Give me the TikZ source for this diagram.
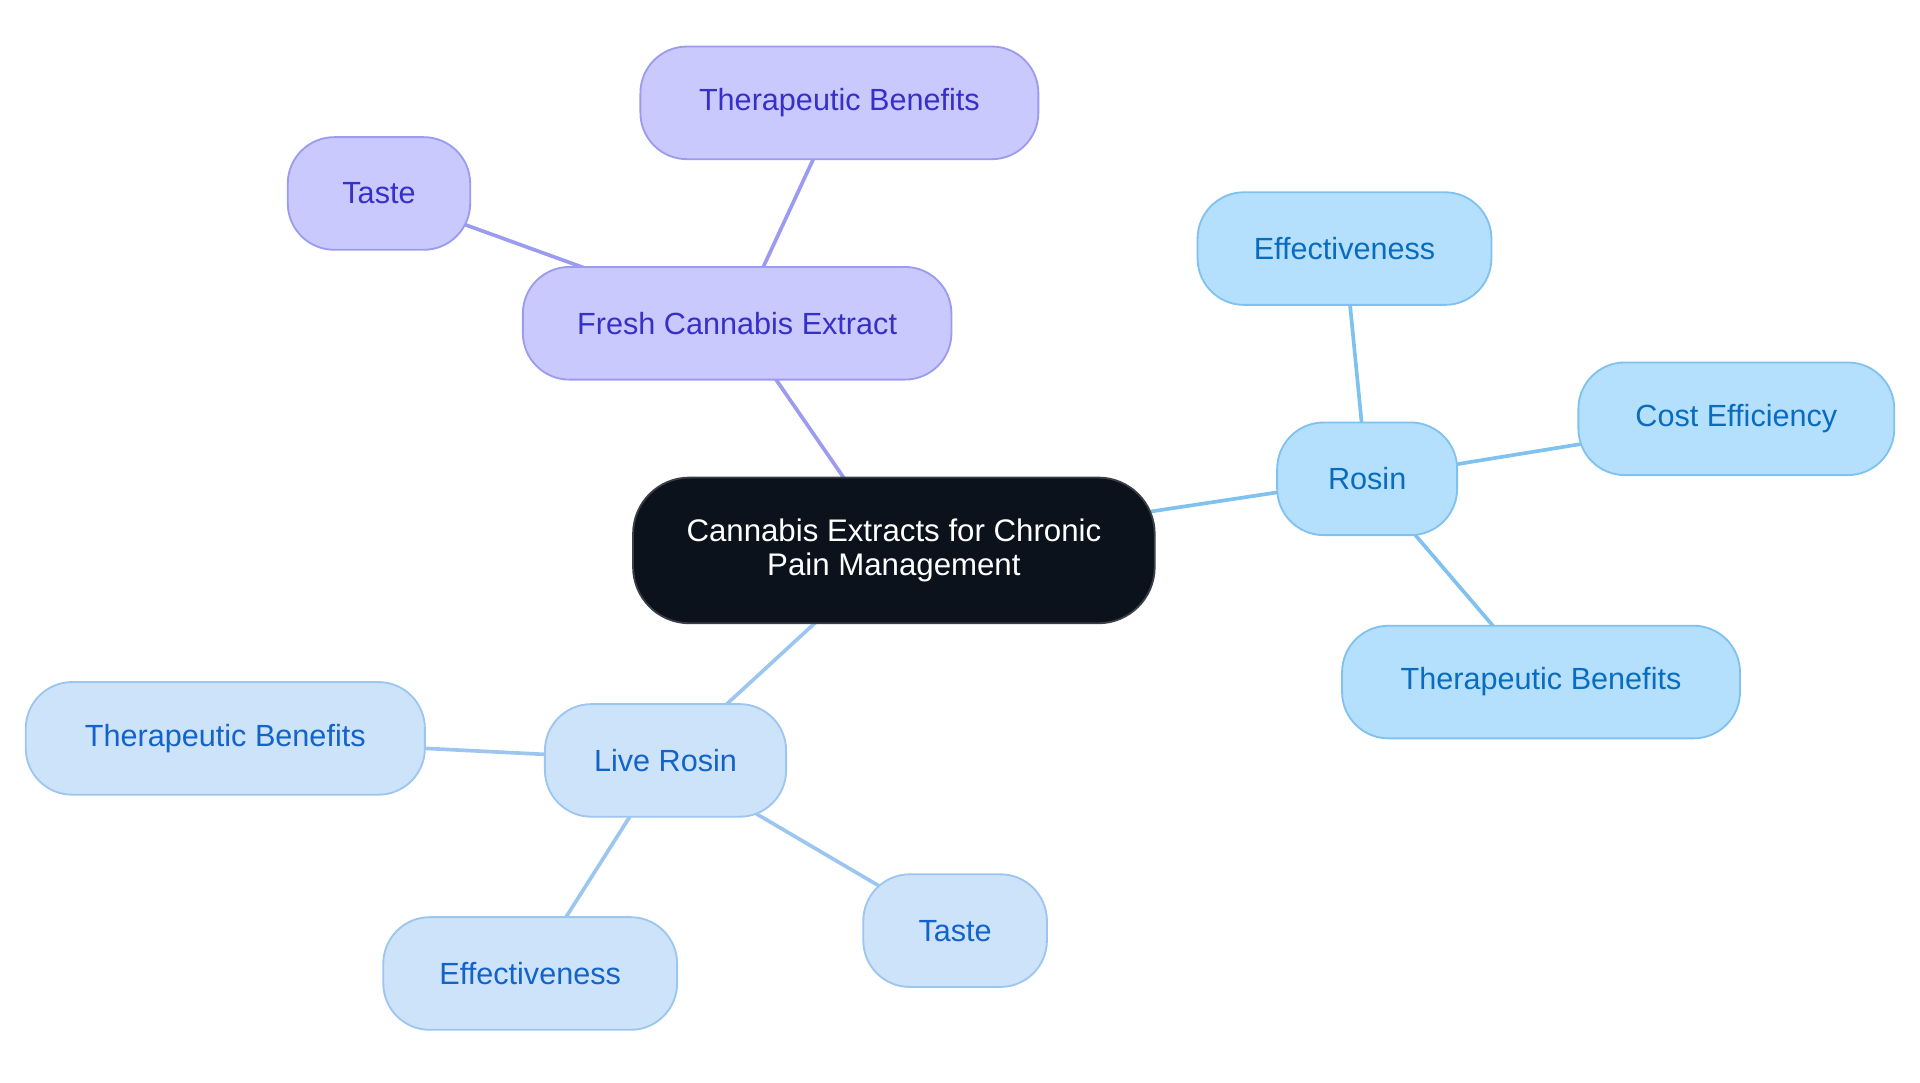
\documentclass[tikz,border=0pt]{standalone}
\usepackage{fontspec}
\setmainfont{Liberation Sans}
\usetikzlibrary{backgrounds}
\definecolor{rootfill}{HTML}{0C121C}
\definecolor{rootline}{HTML}{3A3F47}
\definecolor{freshfill}{HTML}{C9C9FD}
\definecolor{freshline}{HTML}{9B9BF0}
\definecolor{freshtext}{HTML}{3730C8}
\definecolor{rosinfill}{HTML}{B5E0FD}
\definecolor{rosinline}{HTML}{7FC2F0}
\definecolor{rosintext}{HTML}{0A6CBF}
\definecolor{livefill}{HTML}{CCE3FA}
\definecolor{liveline}{HTML}{9CC6F0}
\definecolor{livetext}{HTML}{1463C8}

\begin{document}
\begin{tikzpicture}[x=1pt,y=-1pt,
    topic/.style={draw, rounded corners=38pt, line width=1.5pt, minimum height=92pt,
        inner sep=0pt, font=\fontsize{25}{27}\selectfont},
    root/.style={topic, fill=rootfill, draw=rootline, text=white, align=center,
        minimum height=119pt, rounded corners=46pt, font=\fontsize{25.5}{27}\selectfont},
    fresh/.style={topic, fill=freshfill, draw=freshline, text=freshtext},
    rosin/.style={topic, fill=rosinfill, draw=rosinline, text=rosintext},
    live/.style={topic, fill=livefill, draw=liveline, text=livetext},
    link/.style={line width=3pt}
]

    \useasboundingbox (0,0) rectangle (1568,884.4);

    % centre
    \node[root, minimum width=426pt] (pain) at (730,449.5) {Cannabis Extracts for Chronic\\Pain Management};

    % fresh cannabis extract
    \node[fresh, minimum width=350pt] (fresh) at (602,264) {Fresh Cannabis Extract};
    \node[fresh, minimum width=325pt] (freshben) at (685.5,84) {Therapeutic Benefits};
    \node[fresh, minimum width=149pt] (freshtaste) at (309.5,158) {Taste};

    % rosin
    \node[rosin, minimum width=147pt] (rosin) at (1116.5,391) {Rosin};
    \node[rosin, minimum width=240pt] (rosineff) at (1098,203) {Effectiveness};
    \node[rosin, minimum width=258pt] (rosincost) at (1418,342) {Cost Efficiency};
    \node[rosin, minimum width=325pt] (rosinben) at (1258.5,557) {Therapeutic Benefits};

    % live rosin
    \node[live, minimum width=197pt] (live) at (543.5,621) {Live Rosin};
    \node[live, minimum width=326pt] (liveben) at (184,603) {Therapeutic Benefits};
    \node[live, minimum width=240pt] (liveeff) at (433,795) {Effectiveness};
    \node[live, minimum width=150pt] (livetaste) at (780,760) {Taste};

    \begin{scope}[on background layer]
    \draw[link, color=freshline] (pain.center) -- (fresh.center);
    \draw[link, color=freshline] (fresh.center) -- (freshben.center);
    \draw[link, color=freshline] (fresh.center) -- (freshtaste.center);

    \draw[link, color=rosinline] (pain.center) -- (rosin.center);
    \draw[link, color=rosinline] (rosin.center) -- (rosineff.center);
    \draw[link, color=rosinline] (rosin.center) -- (rosincost.center);
    \draw[link, color=rosinline] (rosin.center) -- (rosinben.center);

    \draw[link, color=liveline] (pain.center) -- (live.center);
    \draw[link, color=liveline] (live.center) -- (liveben.center);
    \draw[link, color=liveline] (live.center) -- (liveeff.center);
    \draw[link, color=liveline] (live.center) -- (livetaste.center);
    \end{scope}

\end{tikzpicture}
\end{document}
